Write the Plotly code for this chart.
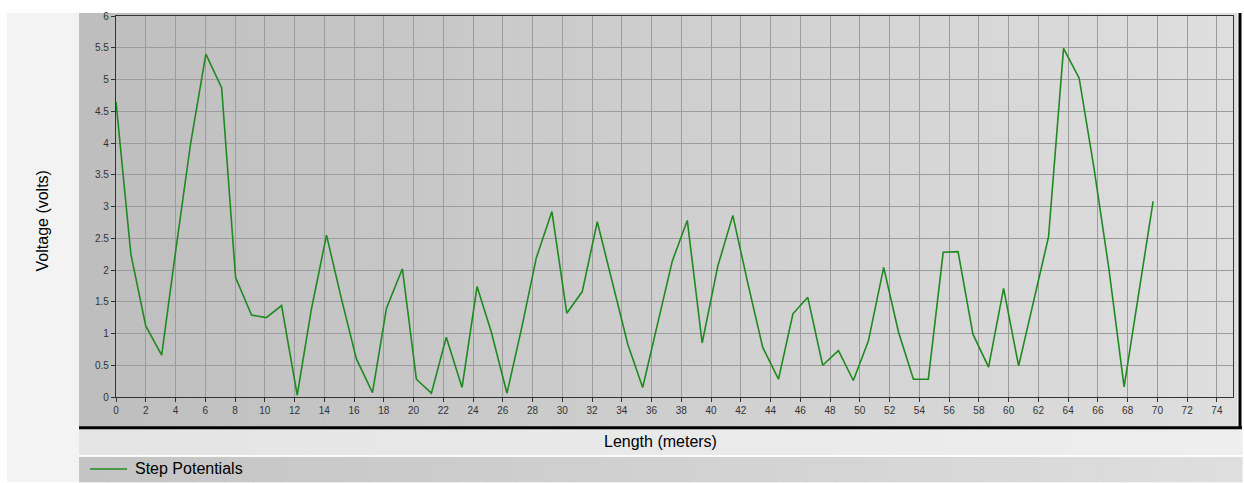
import plotly.graph_objects as go

# ---- data ----
length_m = [0, 1.0, 2.0, 3.07, 4.04, 5.02, 6.04, 7.1, 8.04, 9.11,
            10.1, 11.13, 12.18, 13.14, 14.15, 15.15, 16.16, 17.24, 18.18, 19.25,
            20.19, 21.2, 22.2, 23.26, 24.27, 25.23, 26.28, 27.28, 28.25, 29.3,
            30.3, 31.34, 32.35, 33.38, 34.4, 35.4, 36.4, 37.39, 38.4, 39.4,
            40.45, 41.46, 42.46, 43.47, 44.53, 45.5, 46.5, 47.5, 48.56, 49.56,
            50.57, 51.6, 52.6, 53.6, 54.6, 55.6, 56.6, 57.6, 58.65, 59.66,
            60.67, 61.68, 62.68, 63.69, 64.74, 65.74, 66.75, 67.76, 68.74, 69.71]
step_potentials = [4.65, 2.25, 1.12, 0.66, 2.35, 4.0, 5.4, 4.87, 1.88, 1.29,
                   1.25, 1.44, 0.03, 1.39, 2.55, 1.55, 0.6, 0.07, 1.4, 2.02,
                   0.28, 0.06, 0.94, 0.15, 1.74, 1.02, 0.06, 1.1, 2.19, 2.92,
                   1.32, 1.66, 2.76, 1.8, 0.83, 0.15, 1.15, 2.14, 2.78, 0.85,
                   2.06, 2.86, 1.8, 0.78, 0.28, 1.31, 1.57, 0.5, 0.73, 0.26,
                   0.88, 2.04, 1.02, 0.28, 0.28, 2.28, 2.29, 0.99, 0.47, 1.71,
                   0.49, 1.5, 2.52, 5.49, 5.02, 3.6, 2.0, 0.16, 1.6, 3.08]
series_name = "Step Potentials"
x_title = "Length (meters)"
y_title = "Voltage (volts)"

LINE_COLOR = "#1f8a1f"
FONT = "Liberation Sans, Arial"

# ---- geometry ----
W, H = 1244, 483
PL, PR, PT, PB = 116, 1234, 13, 397
PW, PH = PR - PL, PB - PT


def px(x):
    return (x - PL) / PW


def py(y):
    return (PB - y) / PH


shapes = []


def rect(x0, y0, x1, y1, color):
    shapes.append(dict(type="rect", xref="paper", yref="paper", layer="below",
                       x0=px(x0), x1=px(x1), y0=py(y1), y1=py(y0),
                       fillcolor=color, line=dict(width=0)))


def gradient(x0, y0, x1, y1, c0, c1, n=60):
    step = (x1 - x0) / n
    for i in range(n):
        t = i / (n - 1)
        c = tuple(round(a + (b - a) * t) for a, b in zip(c0, c1))
        rect(x0 + i * step, y0, x0 + (i + 1) * step + 0.6, y1,
             "rgb(%d,%d,%d)" % c)


def hline(x0, x1, y, color, w, layer="below"):
    shapes.append(dict(type="line", xref="paper", yref="paper", layer=layer,
                       x0=px(x0), x1=px(x1), y0=py(y), y1=py(y),
                       line=dict(color=color, width=w)))


def vline(x, y0, y1, color, w):
    shapes.append(dict(type="line", xref="paper", yref="paper", layer="below",
                       x0=px(x), x1=px(x), y0=py(y0), y1=py(y1),
                       line=dict(color=color, width=w)))


# page background pieces
rect(7, 10, 79, 483, "#f3f3f3")
# x title strip
gradient(79, 429, 1243, 456, (228, 228, 228), (238, 238, 238), n=20)
# legend strip
gradient(79, 457, 1243, 483, (196, 196, 196), (222, 222, 222), n=40)
hline(79, 1243, 456.5, "#ffffff", 1.5)
# chart panel
gradient(79, 10, 1238, 427, (190, 190, 190), (222, 222, 222), n=70)
hline(79, 1243, 428, "#000000", 3)
vline(1241, 10, 429, "#000000", 3)
# legend sample line (series colour)
hline(90, 127, 469.5, LINE_COLOR, 1.6, layer="above")

fig = go.Figure()
fig.add_trace(go.Scatter(x=length_m, y=step_potentials, mode="lines",
                         name=series_name, showlegend=False,
                         line=dict(color=LINE_COLOR, width=1.6)))

fig.update_layout(
    width=W, height=H,
    margin=dict(l=PL, r=W - PR, t=PT, b=H - PB),
    paper_bgcolor="#ffffff",
    plot_bgcolor="rgba(0,0,0,0)",
    shapes=shapes,
    showlegend=False,
    annotations=[
        dict(text=x_title, xref="paper", yref="paper", x=px(661), y=py(442),
             xanchor="center", yanchor="middle", showarrow=False,
             font=dict(family=FONT, size=16, color="#000000")),
        dict(text=y_title, xref="paper", yref="paper", x=px(42), y=py(220),
             xanchor="center", yanchor="middle", showarrow=False, textangle=-90,
             font=dict(family=FONT, size=16, color="#000000")),
        dict(text=series_name, xref="paper", yref="paper", x=px(133), y=py(469.5),
             xanchor="left", yanchor="middle", showarrow=False,
             font=dict(family=FONT, size=16, color="#000000")),
    ],
)

axis_common = dict(showgrid=True, gridcolor="#9c9c9c", gridwidth=1, zeroline=False,
                   showline=True, linecolor="#333333", linewidth=1.2, mirror=True,
                   ticks="outside", ticklen=4, tickcolor="#333333",
                   tickfont=dict(family=FONT, size=10, color="#333333"))
fig.update_xaxes(range=[0, 75.08], tick0=0, dtick=2, **axis_common)
fig.update_yaxes(range=[0, 6], tick0=0, dtick=0.5, **axis_common)

fig.write_html(
    "out.html",
    config={"displayModeBar": False},
    post_script="document.body.style.margin='0';document.body.style.padding='0';"
                "document.documentElement.style.overflow='hidden';",
)
